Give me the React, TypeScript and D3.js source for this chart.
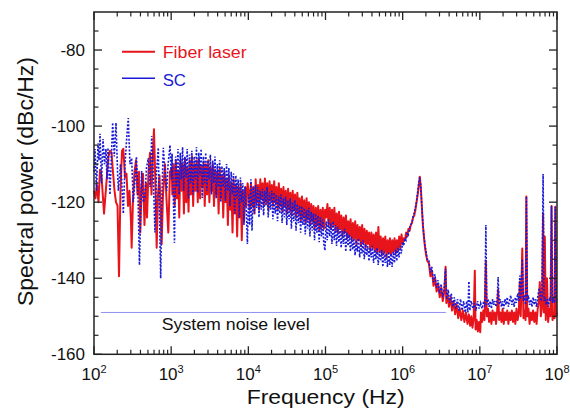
import React from "react";
import * as d3 from "d3";

// x values are log10(frequency in Hz), y values are dBc/Hz
const xDecades = [2, 3, 4, 5, 6, 7, 8];
const yTickValues = [-160, -140, -120, -100, -80];
const yMinorValues = [-155, -150, -145, -135, -130, -125, -115, -110, -105, -95, -90, -85, -75];
const seriesNames = ["Fiber laser", "SC"];
const noiseLevel = -149;
const noiseLineLogF = [2.09, 6.56];
const noiseLabel = "System noise level";

const redData: number[][] = [
  [2.000,-117],[2.019,-119],[2.039,-115.5],[2.058,-120],[2.078,-111.5],[2.097,-113],[2.117,-119],[2.130,-123],
  [2.149,-118],[2.168,-113],[2.188,-108],[2.207,-106.5],[2.227,-107],[2.246,-112],[2.266,-117],[2.285,-120],
  [2.305,-121],[2.324,-139.5],[2.343,-117],[2.363,-106.5],[2.380,-106],[2.402,-113.5],[2.421,-112.5],[2.441,-121],
  [2.460,-117],[2.479,-125],[2.488,-132],[2.505,-119.5],[2.525,-112],[2.544,-109],[2.563,-118],[2.583,-112],
  [2.600,-128],[2.616,-116],[2.635,-112.5],[2.654,-126],[2.674,-115],[2.687,-124],[2.706,-112],[2.726,-107],
  [2.745,-118],[2.758,-110],[2.777,-100.8],[2.797,-116],[2.812,-132],[2.829,-118],[2.849,-113],[2.877,-131],
  [2.894,-118],[2.920,-110],[2.939,-119],[2.963,-128],[2.985,-112],[3.007,-111],
  [3.015,-118],[3.030,-110],[3.045,-121],[3.060,-109],[3.075,-119],[3.090,-112],[3.105,-124],[3.120,-109],
  [3.135,-117],[3.150,-110],[3.165,-123],[3.180,-108.5],[3.195,-120],[3.210,-111],[3.225,-122.5],[3.240,-109],
  [3.255,-118],[3.270,-108],[3.285,-121],[3.300,-110],[3.315,-117],[3.330,-109],[3.345,-120],[3.360,-108.5],
  [3.375,-119],[3.390,-110.5],[3.405,-116],[3.420,-109.5],[3.435,-121],[3.450,-110],[3.465,-118],[3.480,-109],
  [3.495,-120],[3.510,-111],[3.525,-117],[3.540,-110],[3.555,-121],[3.570,-111.5],[3.585,-118],[3.600,-112],
  [3.615,-123],[3.630,-111],[3.645,-119],[3.660,-113],[3.675,-124],[3.690,-112],[3.705,-120],[3.720,-114],
  [3.735,-126],[3.750,-113],[3.765,-122],[3.780,-115],[3.795,-128],[3.810,-114],[3.825,-123],[3.840,-115.5],
  [3.855,-129],[3.870,-116],[3.885,-124],[3.900,-115],[3.915,-130],[3.930,-117],[3.945,-125],[3.960,-116],
  [3.975,-121],[3.990,-115],
  [4.005,-117],[4.020,-122],[4.035,-115],[4.050,-121],[4.065,-116],[4.080,-123],[4.095,-114],[4.110,-120],
  [4.125,-115.5],[4.140,-122],[4.155,-114],[4.170,-119],[4.185,-115],[4.200,-121],[4.215,-113.8],[4.230,-120],
  [4.245,-115],[4.260,-122],[4.275,-114.5],[4.290,-119.5],[4.305,-115.5],[4.320,-121],[4.335,-114.5],[4.350,-120],
  [4.365,-116],[4.380,-122],[4.395,-115],[4.410,-121],[4.425,-116.5],[4.440,-122.5],[4.455,-116],[4.470,-121],
  [4.485,-117],[4.500,-123],[4.515,-116.5],[4.530,-122],[4.545,-117.5],[4.560,-123.5],[4.575,-117],[4.590,-122],
  [4.605,-118],[4.620,-124],[4.635,-117.5],[4.650,-123],[4.665,-119],[4.680,-125],[4.695,-118.5],[4.710,-124],
  [4.725,-119.5],[4.740,-125.5],[4.755,-119],[4.770,-124.5],[4.785,-120],[4.800,-126],[4.815,-120.5],[4.830,-125],
  [4.845,-121],[4.860,-127],[4.875,-121.5],[4.890,-126],[4.905,-121],[4.920,-127.5],[4.935,-122],[4.950,-126.5],
  [4.965,-121.5],[4.980,-127],[4.995,-122],
  [5.010,-124],[5.025,-120.5],[5.040,-126],[5.055,-121.5],[5.070,-127],[5.085,-122],[5.100,-126],[5.115,-121.5],
  [5.130,-127.5],[5.145,-123],[5.160,-128],[5.175,-122.5],[5.190,-127],[5.205,-123.5],[5.220,-129],[5.235,-124],
  [5.250,-128],[5.265,-123.5],[5.280,-129.5],[5.295,-125],[5.310,-129],[5.325,-124.5],[5.340,-130],[5.355,-125.5],
  [5.370,-129.5],[5.385,-125],[5.400,-131],[5.415,-126],[5.430,-130],[5.445,-126.5],[5.460,-131.5],[5.475,-126],
  [5.490,-130.5],[5.505,-127],[5.520,-132],[5.535,-127.5],[5.550,-131],[5.565,-128],[5.580,-132.5],[5.595,-128],
  [5.610,-132],[5.625,-128.5],[5.640,-133],[5.655,-128],[5.670,-133.5],[5.685,-126.5],[5.700,-133],[5.715,-129],
  [5.730,-134],[5.745,-129.5],[5.760,-133],[5.775,-129],[5.790,-134.5],[5.805,-130],[5.820,-133.5],[5.835,-129.5],
  [5.850,-134],[5.865,-130],[5.880,-133],[5.895,-129.5],[5.910,-133.5],[5.925,-130],[5.940,-132.5],[5.955,-129],
  [5.970,-132],[5.985,-128.5],[6.000,-131],[6.015,-129.5],[6.030,-130],[6.045,-128],[6.060,-129],[6.075,-127],
  [6.090,-127.5],[6.105,-126],[6.120,-125.5],[6.135,-124],[6.150,-123.5],[6.165,-122],[6.180,-120],[6.195,-118],
  [6.210,-115.5],[6.222,-113.3],[6.235,-116],[6.248,-121],[6.262,-126],[6.275,-129],[6.290,-132],[6.305,-134],
  [6.320,-135.5],[6.340,-136],[6.360,-139.5],[6.380,-138],[6.400,-142],[6.420,-140],[6.440,-143.5],[6.460,-141.5],
  [6.480,-145],[6.500,-142.5],[6.520,-146],[6.540,-143.5],[6.556,-137],[6.566,-146.5],[6.580,-144],[6.600,-147.5],
  [6.620,-145],[6.640,-148.5],[6.660,-146],[6.680,-149.5],[6.700,-147],[6.720,-150.5],[6.740,-148],[6.760,-151],
  [6.780,-148.5],[6.800,-151.5],[6.820,-149],[6.840,-152],[6.858,-149.5],[6.875,-152.5],[6.890,-150],[6.905,-153],
  [6.920,-150.5],[6.935,-138],[6.945,-153.5],[6.960,-151],[6.975,-154],[6.990,-151.5],[7.005,-154.2],[7.015,-149],
  [7.030,-151.5],[7.045,-148.5],[7.060,-151],[7.078,-135.4],[7.090,-150],[7.105,-148],[7.120,-151.5],[7.135,-149],
  [7.150,-152],[7.165,-148.5],[7.180,-151],[7.195,-149],[7.210,-152],[7.225,-148.5],[7.237,-143],[7.250,-151],
  [7.265,-149],[7.280,-151.5],[7.295,-148],[7.310,-152],[7.325,-149],[7.340,-151],[7.355,-148.5],[7.370,-152],
  [7.385,-149],[7.400,-151],[7.415,-148.5],[7.430,-151.5],[7.445,-149],[7.460,-152],[7.475,-148],[7.490,-151],
  [7.505,-149],[7.518,-141],[7.530,-150],[7.550,-132.2],[7.565,-150.5],[7.580,-148.5],[7.592,-151],[7.603,-118.5],
  [7.615,-150],[7.630,-148],[7.645,-152],[7.660,-149],[7.675,-151],[7.690,-148.5],[7.705,-151.5],[7.720,-149],
  [7.735,-152],[7.750,-148],[7.765,-146],[7.777,-141],[7.790,-150],[7.805,-148],[7.820,-123],[7.832,-149],
  [7.842,-129],[7.855,-151],[7.870,-140],[7.885,-151.5],[7.900,-148],[7.915,-150],[7.929,-121],[7.942,-151],
  [7.955,-149],[7.968,-150.5],[7.978,-121.2],[7.990,-150],[8.000,-149],
];

const blueData: number[][] = [
  [2.000,-112],[2.013,-106],[2.032,-117],[2.052,-104.5],[2.065,-109],[2.078,-102],[2.097,-115],[2.117,-103.4],
  [2.136,-110],[2.155,-106],[2.168,-114],[2.181,-105.7],[2.207,-118],[2.242,-99.1],[2.263,-108],[2.285,-99.1],
  [2.305,-112],[2.315,-117],[2.343,-110],[2.358,-114],[2.380,-123],[2.402,-110],[2.421,-104],[2.444,-97.9],
  [2.466,-110],[2.488,-108.4],[2.509,-120],[2.531,-114.4],[2.550,-108],[2.570,-118],[2.589,-136.5],[2.617,-111.8],
  [2.638,-120],[2.661,-118.5],[2.680,-111],[2.704,-108.4],[2.726,-116],[2.748,-102.6],[2.768,-113],[2.790,-128],
  [2.810,-112],[2.833,-105.7],[2.864,-140],[2.881,-117],[2.898,-105.7],[2.920,-112],[2.943,-117],[2.960,-110],
  [2.985,-105],[3.004,-114],
  [3.012,-107.3],[3.028,-119],[3.043,-130.7],[3.058,-108],[3.073,-116],[3.088,-106],[3.103,-118],[3.118,-107],
  [3.133,-114],[3.148,-105.5],[3.163,-117],[3.178,-108],[3.193,-113.5],[3.208,-106],[3.223,-119],[3.238,-107.5],
  [3.253,-115],[3.268,-106.5],[3.283,-118],[3.298,-108],[3.313,-114],[3.328,-105.5],[3.343,-117.5],[3.358,-107],
  [3.373,-113],[3.388,-106],[3.403,-118.9],[3.418,-108],[3.433,-115],[3.448,-107],[3.463,-117],[3.478,-109],
  [3.493,-114],[3.508,-107.5],[3.523,-118],[3.538,-109],[3.553,-115],[3.568,-108],[3.583,-119],[3.598,-110],
  [3.613,-116],[3.628,-109],[3.643,-120],[3.658,-110.5],[3.673,-116],[3.688,-111],[3.703,-119.6],[3.718,-110],
  [3.733,-117],[3.748,-111],[3.763,-121],[3.778,-112],[3.793,-118],[3.808,-112.5],[3.823,-123],[3.838,-113],
  [3.853,-119],[3.868,-114],[3.883,-124],[3.898,-113.5],[3.913,-120],[3.928,-115],[3.943,-126],[3.958,-116],
  [3.973,-122],[3.988,-131],
  [4.003,-118],[4.018,-126],[4.033,-114],[4.048,-127.5],[4.063,-116],[4.078,-123],[4.093,-115.5],[4.108,-121.5],
  [4.123,-116],[4.138,-124],[4.153,-117],[4.168,-122],[4.183,-116.5],[4.198,-123.5],[4.213,-117],[4.228,-121],
  [4.243,-116],[4.258,-124],[4.273,-117.5],[4.288,-122],[4.303,-117],[4.318,-124.5],[4.333,-117.5],[4.348,-123],
  [4.363,-118],[4.378,-125],[4.393,-118.5],[4.408,-123],[4.423,-118],[4.438,-125.5],[4.453,-119],[4.468,-124],
  [4.483,-118.5],[4.498,-126],[4.513,-119.5],[4.528,-124.5],[4.543,-119],[4.558,-127],[4.573,-120],[4.588,-125],
  [4.603,-119.5],[4.618,-127.5],[4.633,-120.5],[4.648,-125.5],[4.663,-121],[4.678,-128],[4.693,-121],[4.708,-126],
  [4.723,-121.5],[4.738,-128.5],[4.753,-122],[4.768,-127],[4.783,-121.5],[4.798,-129],[4.813,-122.5],[4.828,-127.5],
  [4.843,-123],[4.858,-130],[4.873,-123],[4.888,-128],[4.903,-123.5],[4.918,-130.5],[4.933,-124],[4.948,-129],
  [4.963,-124.5],[4.978,-131],[4.993,-132.7],
  [5.008,-125],[5.023,-130],[5.038,-124.5],[5.053,-129],[5.068,-125.5],[5.083,-131],[5.098,-125],[5.113,-130],
  [5.128,-126],[5.143,-131.5],[5.158,-126.5],[5.173,-130.5],[5.188,-127],[5.203,-132],[5.218,-127.5],[5.233,-131],
  [5.248,-127],[5.263,-133],[5.278,-128],[5.293,-131.5],[5.308,-128.5],[5.323,-133],[5.338,-129],[5.353,-132.5],
  [5.368,-129.5],[5.383,-134],[5.398,-130],[5.413,-133],[5.428,-129.5],[5.443,-134.5],[5.458,-130.5],[5.473,-133.5],
  [5.488,-130],[5.503,-135],[5.518,-131],[5.533,-134],[5.548,-131.5],[5.563,-135.5],[5.578,-132],[5.593,-134.5],
  [5.608,-131.5],[5.623,-136],[5.638,-132.5],[5.653,-135],[5.668,-132],[5.683,-136.5],[5.698,-133],[5.713,-135.5],
  [5.728,-132.5],[5.743,-137],[5.758,-133],[5.773,-136],[5.788,-133.5],[5.803,-137],[5.818,-133],[5.833,-136.5],
  [5.848,-133.5],[5.863,-137],[5.878,-133],[5.893,-136],[5.908,-132.5],[5.923,-135.5],[5.938,-132],[5.953,-134.5],
  [5.968,-131.5],[5.983,-133.5],[5.998,-130.5],[6.013,-131.5],[6.028,-129.5],[6.043,-130],[6.058,-128],[6.073,-128.5],
  [6.088,-127],[6.103,-126],[6.118,-125.5],[6.133,-124],[6.148,-123],[6.163,-121.5],[6.178,-120],[6.193,-117.5],
  [6.208,-115],[6.220,-113.5],[6.233,-115.5],[6.246,-120],[6.260,-125],[6.273,-128.5],[6.288,-131],[6.303,-133],
  [6.318,-135],[6.338,-135],[6.358,-138.5],[6.378,-137],[6.398,-141],[6.418,-139],[6.438,-142.5],[6.458,-140.5],
  [6.478,-144],[6.498,-141.5],[6.518,-145],[6.538,-142.5],[6.556,-137.5],[6.570,-145.5],[6.590,-143],[6.610,-146.5],
  [6.630,-144],[6.650,-147.5],[6.670,-145],[6.690,-148],[6.710,-145.5],[6.730,-148.5],[6.750,-145.5],[6.770,-148.5],
  [6.790,-146],[6.810,-149],[6.830,-146],[6.845,-149],[6.858,-140.8],[6.870,-148.5],[6.890,-146],[6.910,-148],
  [6.930,-146.5],[6.950,-148.5],[6.970,-146],[6.990,-148],[7.010,-146.5],[7.030,-148],[7.050,-146],[7.065,-147.5],
  [7.078,-126],[7.090,-147],[7.105,-145.5],[7.120,-147.5],[7.135,-146],[7.150,-148],[7.165,-145.5],[7.180,-147],
  [7.195,-146],[7.210,-147.5],[7.225,-145.5],[7.237,-139.7],[7.250,-147],[7.265,-145.5],[7.280,-147.5],[7.295,-146],
  [7.310,-148],[7.325,-145.5],[7.340,-147],[7.355,-145],[7.370,-147.5],[7.385,-146],[7.400,-144.5],[7.415,-147],
  [7.430,-145.5],[7.445,-147.5],[7.460,-145],[7.475,-146.5],[7.490,-144],[7.505,-146],[7.518,-139.3],[7.530,-145.5],
  [7.550,-135],[7.565,-146],[7.580,-144.5],[7.592,-147],[7.603,-118.5],[7.615,-146],[7.630,-144.5],[7.645,-147],
  [7.660,-145.5],[7.675,-147.5],[7.690,-145],[7.705,-147],[7.720,-145.5],[7.735,-147.5],[7.750,-145],[7.765,-143],
  [7.777,-143],[7.790,-146],[7.805,-145],[7.820,-112.6],[7.832,-146],[7.845,-145],[7.860,-147],[7.875,-145.5],
  [7.890,-147.5],[7.905,-145],[7.918,-146],[7.929,-121],[7.942,-146.5],[7.955,-145],[7.968,-146.5],[7.978,-121.2],
  [7.990,-145.5],[8.000,-146],
];

const RED = "#e8141c";
const BLUE = "#1a1ad6";
const FONT = "Arial, 'Liberation Sans', Helvetica, sans-serif";

export default function App() {
  const W = 570, H = 411;
  const left = 94, right = 557, top = 12, bottom = 354.3;
  const x = d3.scaleLog().domain([1e2, 1e8]).range([left, right]);
  const y = d3.scaleLinear().domain([-160, -70]).range([bottom, top]);
  const line = d3
    .line<number[]>()
    .x((d) => x(Math.pow(10, d[0])))
    .y((d) => y(d[1]));

  const majorX = xDecades.map((e) => Math.pow(10, e));
  const minorX: number[] = [];
  xDecades.slice(0, -1).forEach((e) => {
    for (let m = 2; m <= 9; m++) minorX.push(m * Math.pow(10, e));
  });
  const majLen = 8, minLen = 4.5;
  const tickStroke = "#222";

  return (
    <svg width={W} height={H} style={{ position: "absolute", left: 0, top: 0, background: "#fff" }} fontFamily={FONT}>
      <rect x={0} y={0} width={W} height={H} fill="#fff" />
      {/* system noise line */}
      <line
        x1={x(Math.pow(10, noiseLineLogF[0]))}
        x2={x(Math.pow(10, noiseLineLogF[1]))}
        y1={y(noiseLevel)}
        y2={y(noiseLevel)}
        stroke="#8f8ff0"
        strokeWidth={1}
      />
      <text x={161.7} y={330} fontSize={17} fill="#111" textLength={148} lengthAdjust="spacingAndGlyphs">
        {noiseLabel}
      </text>
      {/* data */}
      <path d={line(redData) || ""} fill="none" stroke={RED} strokeWidth={2} strokeLinejoin="round" />
      <path d={line(blueData) || ""} fill="none" stroke={BLUE} strokeWidth={1.6} strokeDasharray="2,1.6" />

      {/* frame */}
      <rect x={left} y={top} width={right - left} height={bottom - top} fill="none" stroke="#222" strokeWidth={1.5} />

      {/* x ticks */}
      {majorX.map((v, i) => (
        <g key={"mx" + i}>
          <line x1={x(v)} x2={x(v)} y1={bottom} y2={bottom - majLen} stroke={tickStroke} strokeWidth={1.3} />
          <line x1={x(v)} x2={x(v)} y1={top} y2={top + majLen} stroke={tickStroke} strokeWidth={1.3} />
          <text x={x(v)} y={380} fontSize={17} textAnchor="middle" fill="#111">
            10<tspan dy={-7} fontSize={11}>{xDecades[i]}</tspan>
          </text>
        </g>
      ))}
      {minorX.map((v, i) => (
        <g key={"nx" + i}>
          <line x1={x(v)} x2={x(v)} y1={bottom} y2={bottom - minLen} stroke={tickStroke} strokeWidth={1.2} />
          <line x1={x(v)} x2={x(v)} y1={top} y2={top + minLen} stroke={tickStroke} strokeWidth={1.2} />
        </g>
      ))}

      {/* y ticks */}
      {yTickValues.map((v) => (
        <g key={"my" + v}>
          <line x1={left} x2={left + majLen} y1={y(v)} y2={y(v)} stroke={tickStroke} strokeWidth={1.3} />
          <line x1={right} x2={right - majLen} y1={y(v)} y2={y(v)} stroke={tickStroke} strokeWidth={1.3} />
          <text x={85} y={y(v) + 6} fontSize={17} textAnchor="end" fill="#111">
            {v}
          </text>
        </g>
      ))}
      {yMinorValues.map((v) => (
        <g key={"ny" + v}>
          <line x1={left} x2={left + minLen} y1={y(v)} y2={y(v)} stroke={tickStroke} strokeWidth={1.2} />
          <line x1={right} x2={right - minLen} y1={y(v)} y2={y(v)} stroke={tickStroke} strokeWidth={1.2} />
        </g>
      ))}

      {/* legend */}
      <line x1={122} x2={155} y1={51.7} y2={51.7} stroke={RED} strokeWidth={2} />
      <text x={162.7} y={57.6} fontSize={16} fill={RED} textLength={84} lengthAdjust="spacingAndGlyphs">
        {seriesNames[0]}
      </text>
      <line x1={122} x2={155} y1={78.3} y2={78.3} stroke={BLUE} strokeWidth={1.6} />
      <text x={162.7} y={85.6} fontSize={16} fill={BLUE} textLength={23.3} lengthAdjust="spacingAndGlyphs">
        {seriesNames[1]}
      </text>

      {/* axis titles */}
      <text x={246.7} y={404} fontSize={20} fill="#111" textLength={158} lengthAdjust="spacingAndGlyphs">
        Frequency (Hz)
      </text>
      <text
        transform="translate(33,181.5) rotate(-90)"
        fontSize={21.5}
        textAnchor="middle"
        fill="#111"
        textLength={249}
        lengthAdjust="spacingAndGlyphs"
      >
        Spectral power (dBc/Hz)
      </text>
    </svg>
  );
}
